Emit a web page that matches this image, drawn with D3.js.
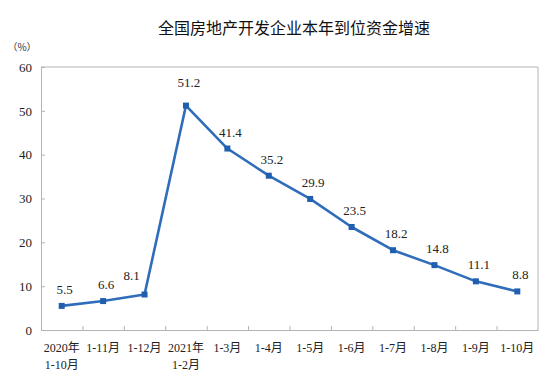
<!DOCTYPE html>
<html><head><meta charset="utf-8">
<script src="https://cdn.jsdelivr.net/npm/d3@7/dist/d3.min.js"></script>
<style>
html,body{margin:0;padding:0;background:#fff;}
svg{display:block;}
</style></head>
<body>
<script>
const title = "全国房地产开发企业本年到位资金增速";
const unitLabel = "（%）";
const categories = ["2020年\n1-10月","1-11月","1-12月","2021年\n1-2月","1-3月","1-4月","1-5月","1-6月","1-7月","1-8月","1-9月","1-10月"];
const values = [5.5, 6.6, 8.1, 51.2, 41.4, 35.2, 29.9, 23.5, 18.2, 14.8, 11.1, 8.8];
const yTicks = [0, 10, 20, 30, 40, 50, 60];

const W = 556, H = 390;
const m = {left: 41, right: 18, top: 67, bottom: 60};
const svg = d3.select("body").append("svg").attr("width", W).attr("height", H);

const x = d3.scaleBand().domain(categories).range([m.left, W - m.right]);
const y = d3.scaleLinear().domain([0, 60]).range([H - m.bottom, m.top]);

const serif = "'Liberation Serif','Times New Roman','Noto Sans CJK SC',serif";
const axisColor = "#b4b4b4";

// title
svg.append("text").attr("x", 294).attr("y", 34).attr("text-anchor", "middle")
  .attr("font-family", "'Noto Sans CJK SC',sans-serif").attr("font-size", 16).attr("fill", "#111")
  .text(title);
svg.append("text").attr("x", 22).attr("y", 51).attr("text-anchor", "middle")
  .attr("font-family", "'Noto Sans CJK SC',sans-serif").attr("font-size", 10).attr("fill", "#333")
  .text(unitLabel);

// frame (top & right)
svg.append("path")
  .attr("d", `M${m.left},${m.top}H${W - m.right}V${H - m.bottom}`)
  .attr("fill", "none").attr("stroke", axisColor).attr("stroke-width", 1);

// y axis
const yAxis = svg.append("g").attr("transform", `translate(${m.left},0)`)
  .call(d3.axisLeft(y).tickValues(yTicks).tickSize(-4).tickPadding(9));
yAxis.select(".domain").attr("stroke", axisColor);
yAxis.selectAll(".tick line").attr("stroke", axisColor);
yAxis.selectAll(".tick text").attr("font-family", serif).attr("font-size", 13).attr("fill", "#222");

// x axis
const xAxis = svg.append("g").attr("transform", `translate(0,${H - m.bottom})`)
  .call(d3.axisBottom(x).tickSize(0).tickPadding(0).tickFormat(""));
xAxis.select(".domain").attr("stroke", axisColor);
xAxis.selectAll(".tick text").remove();
// boundary ticks
svg.append("g").selectAll("line").data(categories.slice(1)).join("line")
  .attr("x1", d => x(d) + 0.5).attr("x2", d => x(d) + 0.5)
  .attr("y1", H - m.bottom).attr("y2", H - m.bottom - 4)
  .attr("stroke", axisColor);
// x labels
const xl = svg.append("g").selectAll("text").data(categories).join("text")
  .attr("x", d => x(d) + x.bandwidth() / 2).attr("y", H - m.bottom + 22)
  .attr("text-anchor", "middle").attr("font-family", serif).attr("font-size", 12).attr("fill", "#222");
xl.each(function(d) {
  const lines = d.split("\n");
  const t = d3.select(this);
  lines.forEach((l, i) => t.append("tspan").attr("x", x(d) + x.bandwidth() / 2).attr("dy", i === 0 ? 0 : 17).text(l));
});

// line
const pts = categories.map((c, i) => ({c, v: values[i], i}));
const line = d3.line().x(d => x(d.c) + x.bandwidth() / 2).y(d => y(d.v));
svg.append("path").datum(pts).attr("d", line).attr("fill", "none")
  .attr("stroke", "#2f6dbb").attr("stroke-width", 2.6).attr("stroke-linejoin", "round");
svg.append("g").selectAll("rect").data(pts).join("rect")
  .attr("x", d => x(d.c) + x.bandwidth() / 2 - 3).attr("y", d => y(d.v) - 3)
  .attr("width", 6).attr("height", 6).attr("fill", "#1f5fae");

// data labels (moved clear of the line where it climbs steeply)
const maxV = d3.max(values);
const steepRise = d => d.i < values.length - 1 && values[d.i + 1] - d.v > 20;
svg.append("g").selectAll("text").data(pts).join("text")
  .attr("x", d => x(d.c) + x.bandwidth() / 2 + (steepRise(d) ? -13 : 3))
  .attr("y", d => y(d.v) - (d.v === maxV ? 19 : steepRise(d) ? 14 : 12))
  .attr("text-anchor", "middle").attr("font-family", serif).attr("font-size", 13).attr("fill", "#222")
  .text(d => d3.format(".1f")(d.v));
</script>
</body></html>
